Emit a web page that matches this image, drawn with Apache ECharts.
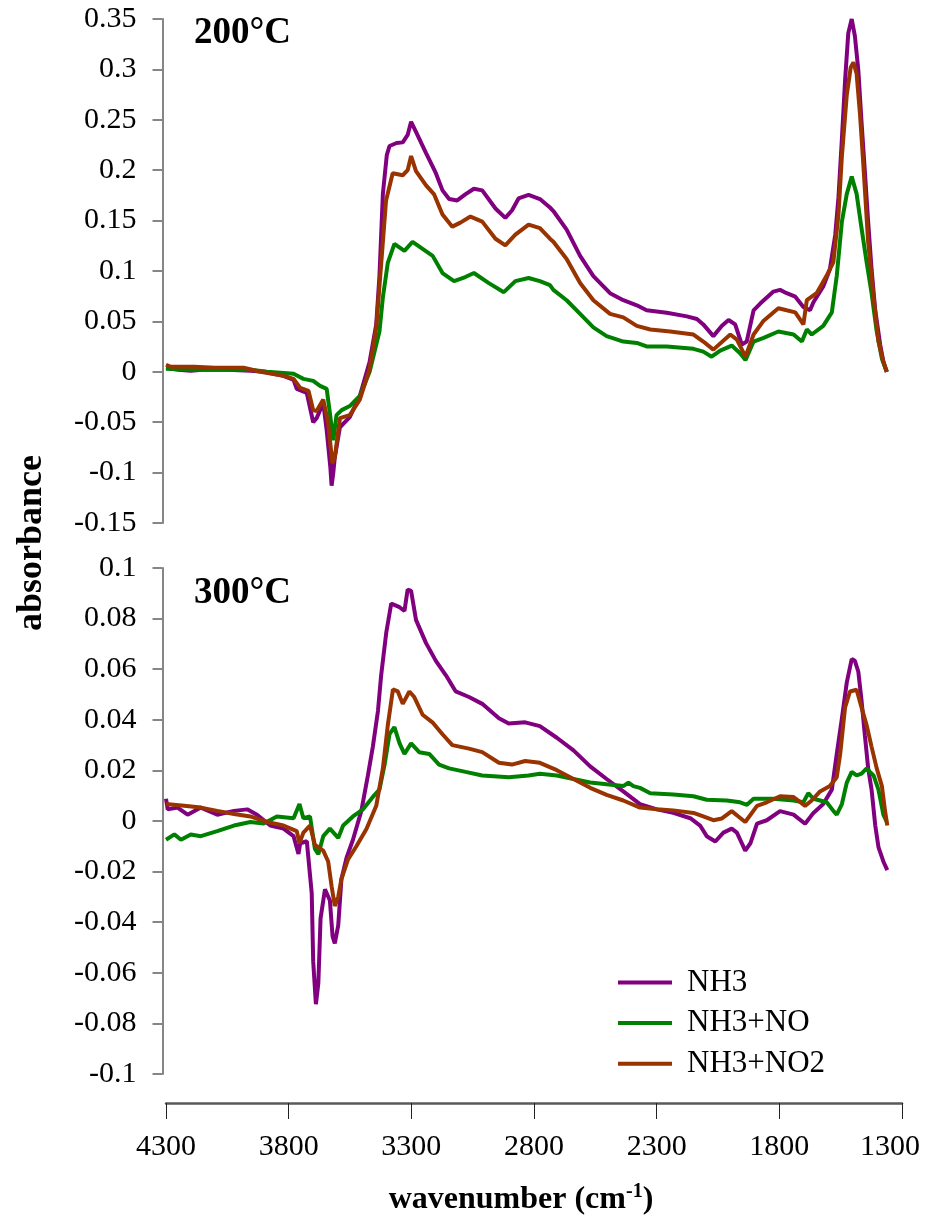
<!DOCTYPE html>
<html>
<head>
<meta charset="utf-8">
<script src="https://cdn.jsdelivr.net/npm/echarts@6/dist/echarts.min.js"></script>
<style>html,body{margin:0;padding:0;background:#fff}#c{width:927px;height:1221px}</style>
</head>
<body>
<div id="c"></div>
<script>
// ---- axis tick values ----
const wavenumberTicks = [1300, 1800, 2300, 2800, 3300, 3800, 4300];
const absTicks200 = [-0.15, -0.1, -0.05, 0, 0.05, 0.1, 0.15, 0.2, 0.25, 0.3, 0.35];
const absTicks300 = [-0.1, -0.08, -0.06, -0.04, -0.02, 0, 0.02, 0.04, 0.06, 0.08, 0.1];
const seriesNames = ['NH3', 'NH3+NO', 'NH3+NO2'];
const panelTitles = ['200°C', '300°C'];

// ---- 200 °C spectra: [wavenumber, absorbance] ----
const NH3_200 = [[4300,0.004],[4250,0.002],[4200,0.001],[4150,0.002],[4100,0.002],[4050,0.002],[3956,0.001],[3900,0.0],[3821,-0.004],[3780,-0.008],[3767,-0.017],[3726,-0.021],[3700,-0.050],[3686,-0.046],[3659,-0.031],[3645,-0.058],[3630,-0.095],[3625,-0.113],[3618,-0.100],[3612,-0.085],[3591,-0.055],[3551,-0.045],[3510,-0.024],[3470,0.010],[3443,0.047],[3430,0.095],[3416,0.1765],[3400,0.215],[3389,0.224],[3360,0.227],[3335,0.2276],[3315,0.235],[3301,0.248],[3281,0.238],[3240,0.217],[3200,0.197],[3173,0.180],[3146,0.1714],[3113,0.170],[3080,0.176],[3045,0.1816],[3011,0.180],[2957,0.162],[2917,0.1527],[2890,0.160],[2863,0.172],[2822,0.1755],[2776,0.1714],[2735,0.163],[2721,0.1595],[2667,0.141],[2612,0.115],[2558,0.095],[2490,0.078],[2436,0.071],[2381,0.066],[2341,0.061],[2259,0.0585],[2177,0.055],[2136,0.0524],[2110,0.047],[2069,0.0354],[2034,0.0456],[2007,0.0514],[1980,0.047],[1953,0.027],[1933,0.030],[1905,0.061],[1878,0.0677],[1824,0.0796],[1797,0.0813],[1770,0.078],[1735,0.0745],[1702,0.0643],[1675,0.061],[1661,0.069],[1621,0.0847],[1594,0.1017],[1572,0.136],[1559,0.173],[1545,0.231],[1532,0.289],[1519,0.336],[1505,0.350],[1492,0.333],[1478,0.299],[1465,0.248],[1451,0.197],[1438,0.149],[1424,0.1017],[1409,0.061],[1389,0.027],[1376,0.010],[1362,0.0]];
const NH3NO_200 = [[4300,0.003],[4200,0.002],[4100,0.002],[3956,0.002],[3888,0.0],[3780,-0.002],[3740,-0.007],[3700,-0.009],[3672,-0.014],[3645,-0.017],[3632,-0.041],[3618,-0.068],[3605,-0.043],[3584,-0.038],[3551,-0.034],[3510,-0.024],[3470,0.0],[3430,0.040],[3416,0.074],[3396,0.108],[3369,0.127],[3328,0.120],[3295,0.129],[3254,0.122],[3213,0.115],[3173,0.098],[3126,0.090],[3080,0.094],[3045,0.098],[2984,0.088],[2923,0.079],[2876,0.090],[2822,0.093],[2776,0.090],[2735,0.086],[2721,0.0813],[2667,0.071],[2612,0.0575],[2558,0.044],[2504,0.0354],[2436,0.030],[2381,0.0286],[2341,0.0252],[2259,0.0252],[2150,0.0228],[2110,0.020],[2076,0.015],[2041,0.021],[1994,0.026],[1960,0.0184],[1938,0.0116],[1905,0.030],[1864,0.0337],[1804,0.040],[1742,0.037],[1708,0.030],[1688,0.042],[1668,0.037],[1621,0.0456],[1586,0.059],[1566,0.095],[1545,0.149],[1525,0.1765],[1505,0.1936],[1485,0.1765],[1465,0.1425],[1444,0.1085],[1424,0.078],[1403,0.040],[1382,0.013],[1362,0.0]];
const NH3NO2_200 = [[4300,0.007],[4280,0.005],[4186,0.005],[4100,0.004],[3984,0.004],[3915,0.0],[3821,-0.004],[3780,-0.007],[3753,-0.016],[3719,-0.019],[3700,-0.038],[3686,-0.039],[3659,-0.0276],[3639,-0.051],[3622,-0.0905],[3612,-0.085],[3591,-0.046],[3551,-0.043],[3510,-0.0276],[3470,0.003],[3443,0.044],[3416,0.129],[3403,0.170],[3376,0.197],[3335,0.195],[3315,0.200],[3301,0.214],[3281,0.199],[3240,0.185],[3207,0.176],[3173,0.156],[3133,0.144],[3100,0.148],[3059,0.154],[3011,0.149],[2957,0.132],[2917,0.1255],[2876,0.136],[2822,0.146],[2776,0.1425],[2735,0.132],[2721,0.129],[2667,0.112],[2612,0.088],[2558,0.071],[2490,0.0575],[2436,0.054],[2381,0.0456],[2326,0.042],[2245,0.040],[2150,0.037],[2110,0.030],[2069,0.022],[2000,0.037],[1973,0.032],[1938,0.015],[1905,0.037],[1864,0.0507],[1804,0.063],[1770,0.061],[1735,0.059],[1702,0.047],[1688,0.071],[1648,0.078],[1608,0.095],[1580,0.1085],[1559,0.156],[1545,0.214],[1525,0.275],[1509,0.302],[1498,0.307],[1485,0.2956],[1471,0.255],[1458,0.207],[1438,0.129],[1416,0.0745],[1396,0.030],[1376,0.010],[1362,0.0]];

// ---- 300 °C spectra: [wavenumber, absorbance] ----
const NH3_300 = [[4300,0.0088],[4293,0.0046],[4253,0.0053],[4212,0.0025],[4158,0.0053],[4091,0.0025],[4023,0.004],[3969,0.0046],[3929,0.0025],[3875,-0.0018],[3821,-0.003],[3780,-0.006],[3760,-0.013],[3753,-0.0088],[3726,-0.008],[3706,-0.0286],[3700,-0.0555],[3689,-0.0724],[3679,-0.064],[3670,-0.0385],[3652,-0.027],[3632,-0.0314],[3621,-0.0456],[3612,-0.0484],[3598,-0.0413],[3585,-0.023],[3564,-0.0145],[3538,-0.0074],[3504,0.0039],[3477,0.018],[3457,0.0293],[3436,0.0435],[3423,0.0576],[3402,0.0746],[3382,0.0859],[3348,0.0845],[3328,0.083],[3315,0.0915],[3301,0.091],[3281,0.0795],[3240,0.0703],[3200,0.0633],[3159,0.0576],[3119,0.0512],[3065,0.049],[3011,0.0463],[2943,0.0406],[2903,0.0385],[2836,0.039],[2776,0.0375],[2707,0.0329],[2639,0.0279],[2571,0.0216],[2504,0.0166],[2436,0.0117],[2368,0.0067],[2299,0.0046],[2232,0.0032],[2163,0.0011],[2123,-0.0018],[2096,-0.006],[2061,-0.0081],[2028,-0.0046],[1994,-0.003],[1973,-0.0046],[1939,-0.0117],[1918,-0.0088],[1891,-0.001],[1851,0.0003],[1797,0.0039],[1742,0.0025],[1695,-0.0011],[1661,0.0032],[1621,0.0067],[1586,0.0124],[1566,0.0265],[1545,0.0406],[1525,0.0548],[1505,0.064],[1492,0.0633],[1478,0.059],[1465,0.0477],[1451,0.0336],[1438,0.0209],[1424,0.0124],[1409,-0.0018],[1396,-0.0103],[1376,-0.016],[1360,-0.0194]];
const NH3NO_300 = [[4300,-0.0074],[4266,-0.0053],[4239,-0.0074],[4199,-0.0053],[4158,-0.006],[4091,-0.004],[4023,-0.0018],[3956,-0.0004],[3902,-0.001],[3848,0.0018],[3780,0.0011],[3756,0.0067],[3740,0.0011],[3713,0.0018],[3693,-0.011],[3679,-0.0131],[3659,-0.006],[3632,-0.003],[3598,-0.0067],[3578,-0.0018],[3538,0.0018],[3497,0.0046],[3457,0.0095],[3430,0.0124],[3409,0.0223],[3389,0.0343],[3369,0.0371],[3348,0.0307],[3328,0.0265],[3301,0.0307],[3268,0.0272],[3227,0.0265],[3187,0.0223],[3146,0.0208],[3079,0.0194],[3011,0.018],[2903,0.0173],[2822,0.018],[2776,0.0187],[2707,0.018],[2639,0.0166],[2571,0.0152],[2504,0.0145],[2436,0.0138],[2415,0.0152],[2395,0.0138],[2368,0.0131],[2326,0.011],[2232,0.0105],[2150,0.0098],[2096,0.0084],[2014,0.0081],[1960,0.0074],[1932,0.0064],[1905,0.0088],[1824,0.0088],[1742,0.0081],[1702,0.0074],[1682,0.011],[1661,0.0088],[1634,0.0081],[1607,0.0074],[1579,0.0039],[1566,0.0025],[1545,0.0067],[1525,0.0152],[1505,0.0194],[1485,0.018],[1465,0.0187],[1444,0.0208],[1431,0.0194],[1416,0.018],[1396,0.0124],[1376,0.0025],[1362,-0.0004]];
const NH3NO2_300 = [[4300,0.0067],[4226,0.006],[4158,0.0053],[4091,0.004],[4023,0.0028],[3956,0.0018],[3888,-0.0004],[3821,-0.0018],[3767,-0.004],[3756,-0.0088],[3740,-0.0046],[3713,-0.0018],[3693,-0.0095],[3659,-0.0117],[3639,-0.016],[3625,-0.0258],[3612,-0.0336],[3598,-0.030],[3585,-0.023],[3558,-0.0152],[3524,-0.010],[3483,-0.0032],[3443,0.006],[3416,0.0208],[3396,0.0378],[3375,0.052],[3355,0.0512],[3335,0.0463],[3308,0.0512],[3288,0.049],[3254,0.042],[3214,0.039],[3173,0.0343],[3133,0.030],[3065,0.0286],[3011,0.0272],[2943,0.023],[2890,0.0223],[2836,0.0237],[2776,0.023],[2707,0.0201],[2639,0.0166],[2571,0.0131],[2504,0.0103],[2436,0.0081],[2368,0.0053],[2299,0.0046],[2232,0.0042],[2150,0.0032],[2110,0.0018],[2069,0.0003],[2034,0.001],[1994,0.0039],[1967,0.0018],[1939,-0.0004],[1891,0.006],[1851,0.0074],[1797,0.0098],[1742,0.0095],[1695,0.006],[1668,0.0081],[1634,0.0117],[1594,0.0138],[1566,0.0173],[1552,0.0265],[1532,0.0449],[1512,0.0512],[1485,0.0519],[1465,0.0449],[1444,0.0378],[1424,0.0293],[1403,0.0208],[1382,0.0138],[1369,0.0039],[1360,-0.0018]];

const colors = ['#800080', '#008000', '#993300'];
const FONT = '"Liberation Serif", "Times New Roman", serif';

const chart = echarts.init(document.getElementById('c'), null, {renderer: 'canvas'});

function xAxisCfg(gridIndex, visible) {
  return {
    type: 'value', gridIndex: gridIndex, inverse: true,
    min: wavenumberTicks[0], max: wavenumberTicks[wavenumberTicks.length - 1],
    interval: wavenumberTicks[1] - wavenumberTicks[0],
    show: visible, offset: 29,
    axisLine: {show: true, onZero: false, lineStyle: {color: '#5a5a5a', width: 2.5}},
    axisTick: {show: true, length: 16, lineStyle: {color: '#222', width: 1}},
    splitLine: {show: false},
    axisLabel: {
      margin: 29, fontFamily: FONT, fontSize: 30, color: '#000',
      formatter: function (v) { return v === wavenumberTicks[0] ? '{e|' + v + '}' : String(v); },
      rich: {e: {fontFamily: FONT, fontSize: 30, color: '#000', padding: [0, 24, 0, 0]}}
    }
  };
}
function yAxisCfg(gridIndex, ticks) {
  return {
    type: 'value', gridIndex: gridIndex,
    min: ticks[0], max: ticks[ticks.length - 1],
    interval: Math.round((ticks[1] - ticks[0]) * 1000) / 1000,
    offset: 3.5,
    axisLine: {show: true, onZero: false, lineStyle: {color: '#868686', width: 2}},
    axisTick: {show: true, length: 10, lineStyle: {color: '#868686', width: 2}},
    splitLine: {show: false},
    axisLabel: {margin: 26, fontFamily: FONT, fontSize: 30, color: '#000'}
  };
}
function lineSeries(name, data, xi, yi, ci) {
  return {
    type: 'line', name: name, data: data, xAxisIndex: xi, yAxisIndex: yi,
    showSymbol: false, symbol: 'none', smooth: false,
    lineStyle: {color: colors[ci], width: 4},
    itemStyle: {color: colors[ci]},
    z: 2 + ci, animation: false
  };
}

chart.setOption({
  animation: false,
  backgroundColor: '#fff',
  grid: [
    {left: 166, top: 19, width: 736, height: 504},
    {left: 166, top: 568, width: 736, height: 506}
  ],
  xAxis: [xAxisCfg(0, false), xAxisCfg(1, true)],
  yAxis: [yAxisCfg(0, absTicks200), yAxisCfg(1, absTicks300)],
  legend: {
    orient: 'vertical', left: 613, top: 962,
    itemWidth: 54, itemHeight: 4, itemGap: 9.6, icon: 'rect',
    data: seriesNames,
    textStyle: {fontFamily: FONT, fontSize: 31, color: '#000', lineHeight: 31, padding: [0, 0, 0, 10]}
  },
  series: [
    lineSeries(seriesNames[0], NH3_200, 0, 0, 0),
    lineSeries(seriesNames[1], NH3NO_200, 0, 0, 1),
    lineSeries(seriesNames[2], NH3NO2_200, 0, 0, 2),
    lineSeries(seriesNames[0], NH3_300, 1, 1, 0),
    lineSeries(seriesNames[1], NH3NO_300, 1, 1, 1),
    lineSeries(seriesNames[2], NH3NO2_300, 1, 1, 2)
  ],
  graphic: [
    {type: 'text', x: 194, y: 33, z: 10, style: {text: panelTitles[0], fontFamily: FONT, fontSize: 37, fontWeight: 'bold', fill: '#000', align: 'left', verticalAlign: 'middle'}},
    {type: 'text', x: 194, y: 593, z: 10, style: {text: panelTitles[1], fontFamily: FONT, fontSize: 37, fontWeight: 'bold', fill: '#000', align: 'left', verticalAlign: 'middle'}},
    {type: 'text', x: 32, y: 543, rotation: Math.PI / 2, z: 10, style: {text: 'absorbance', fontFamily: FONT, fontSize: 36, fontWeight: 'bold', fill: '#000', align: 'center', verticalAlign: 'middle'}},
    {type: 'text', x: 521, y: 1200, z: 10, style: {
      text: '{b|wavenumber (cm}{s|-1}{b|)}', align: 'center', verticalAlign: 'middle', fill: '#000',
      rich: {
        b: {fontFamily: FONT, fontSize: 32, fontWeight: 'bold', fill: '#000', lineHeight: 36},
        s: {fontFamily: FONT, fontSize: 20, fontWeight: 'bold', fill: '#000', lineHeight: 20, verticalAlign: 'top'}
      }
    }}
  ]
});
</script>
</body>
</html>
